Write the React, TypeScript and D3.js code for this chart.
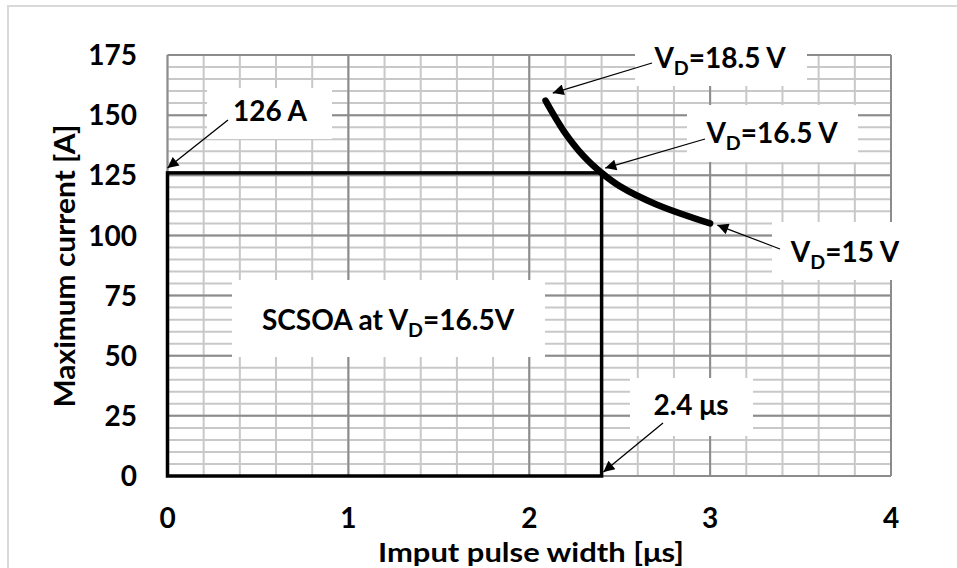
import React from "react";
import * as d3 from "d3";

// ---- data ----
const xTicks = [0, 1, 2, 3, 4];
const yTicks = [0, 25, 50, 75, 100, 125, 150, 175];
const curveX = [2.09, 2.19, 2.3, 2.4, 2.5, 2.7, 3.0];
const curveY = [156, 143.5, 133, 126, 120.5, 113, 105];
const soaWidth = 2.4;
const soaCurrent = 126;

// annotation text + arrow tip (data coords)
const annTexts = ["126 A", "V_D=18.5 V", "V_D=16.5 V", "V_D=15 V", "2.4 μs", "SCSOA at V_D=16.5V"];
const annTipX = [0, 2.13, 2.42, 3.04, 2.41, NaN];
const annTipY = [128, 159.2, 128, 104.3, 1.7, NaN];

// ---- layout (pixels) ----
const W = 957, H = 568;
const X0 = 167.5, X1 = 891, Y0 = 476, Y1 = 55;
// label layout: text centre x, baseline y, box [x0,x1,y0,y1], arrow tail
const annLayout = [
  { cx: 270, by: 121, box: [207, 332, 88, 139], tail: [228, 120] },
  { cx: 720, by: 68, box: [635, 807, 36, 86], tail: [652, 63] },
  { cx: 772, by: 143, box: [687, 858, 105, 162], tail: [705, 139] },
  { cx: 845, by: 262, box: [772, 918, 222, 280], tail: [780, 249] },
  { cx: 691, by: 415, box: [630, 753, 378, 436], tail: [663, 423] },
  { cx: 388, by: 330, box: [232, 545, 280, 357], tail: null },
];

const FONT = "Lato, 'Open Sans', sans-serif";
const FS = 28;

function Label({ text, x, y, size }: { text: string; x: number; y: number; size: number }) {
  const parts = text.split("_D");
  if (parts.length === 1) {
    return (
      <text x={x} y={y} textAnchor="middle" fontSize={size} fontWeight="bold" fontFamily={FONT} fill="#000">
        {text}
      </text>
    );
  }
  return (
    <text x={x} y={y} textAnchor="middle" fontSize={size} fontWeight="bold" fontFamily={FONT} fill="#000">
      {parts[0]}
      <tspan fontSize={size * 0.7} dy={7}>D</tspan>
      <tspan dy={-7}>{parts[1]}</tspan>
    </text>
  );
}

export default function App() {
  const x = d3.scaleLinear().domain([0, 4]).range([X0, X1]);
  const y = d3.scaleLinear().domain([0, 175]).range([Y0, Y1]);

  const minorX = d3.range(0, 4.0001, 0.2);
  const minorY = d3.range(0, 175.0001, 5);

  const pts: [number, number][] = curveX.map((v, i) => [v, curveY[i]]);
  const line = d3
    .line<[number, number]>()
    .x((d) => x(d[0]))
    .y((d) => y(d[1]))
    .curve(d3.curveCatmullRom.alpha(0.5));

  const minorColor = "#c8c8c8";
  const majorColor = "#8c8c8c";

  return (
    <svg width={W} height={H} style={{ position: "absolute", left: 0, top: 0, background: "#fff" }}>
      <defs>
        <marker id="ah" viewBox="0 0 10 10" refX="10" refY="5" markerWidth="14" markerHeight="11" markerUnits="userSpaceOnUse" orient="auto">
          <path d="M0,0 L10,5 L0,10 z" fill="#000" />
        </marker>
      </defs>
      <rect x={8} y={6} width={W + 10} height={H + 10} fill="#fff" stroke="#d9d9d9" strokeWidth={2} />

      {/* minor grid */}
      {minorX.map((v, i) => (
        <line key={"mx" + i} x1={x(v)} x2={x(v)} y1={y(0)} y2={y(175)} stroke={minorColor} strokeWidth={2} />
      ))}
      {minorY.map((v, i) => (
        <line key={"my" + i} x1={x(0)} x2={x(4)} y1={y(v)} y2={y(v)} stroke={minorColor} strokeWidth={2} />
      ))}
      {/* major grid */}
      {xTicks.map((v) => (
        <line key={"Mx" + v} x1={x(v)} x2={x(v)} y1={y(0)} y2={y(175)} stroke={majorColor} strokeWidth={2} />
      ))}
      {yTicks.map((v) => (
        <line key={"My" + v} x1={x(0)} x2={x(4)} y1={y(v)} y2={y(v)} stroke={majorColor} strokeWidth={2} />
      ))}

      {/* annotation boxes */}
      {annLayout.map((a, i) => (
        <rect key={"b" + i} x={a.box[0]} y={a.box[2]} width={a.box[1] - a.box[0]} height={a.box[3] - a.box[2]} fill="#fff" />
      ))}

      {/* SOA rectangle */}
      <rect
        x={x(0)}
        y={y(soaCurrent)}
        width={x(soaWidth) - x(0)}
        height={y(0) - y(soaCurrent)}
        fill="none"
        stroke="#000"
        strokeWidth={3.5}
      />

      {/* curve */}
      <path d={line(pts) || ""} fill="none" stroke="#000" strokeWidth={6.5} strokeLinecap="round" strokeLinejoin="round" />

      {/* arrows */}
      {annLayout.map((a, i) =>
        a.tail ? (
          <line
            key={"a" + i}
            x1={a.tail[0]}
            y1={a.tail[1]}
            x2={x(annTipX[i])}
            y2={y(annTipY[i])}
            stroke="#000"
            strokeWidth={1.3}
            markerEnd="url(#ah)"
          />
        ) : null
      )}

      {/* annotation texts */}
      {annLayout.map((a, i) => (
        <Label key={"t" + i} text={annTexts[i]} x={a.cx} y={a.by} size={FS} />
      ))}

      {/* axes labels */}
      {yTicks.map((v) => (
        <text key={"yl" + v} x={137} y={y(v)} dy="0.36em" textAnchor="end" fontSize={FS} fontWeight="bold" fontFamily={FONT}>
          {v}
        </text>
      ))}
      {xTicks.map((v) => (
        <text key={"xl" + v} x={x(v)} y={518} dy="0.36em" textAnchor="middle" fontSize={FS} fontWeight="bold" fontFamily={FONT}>
          {v}
        </text>
      ))}
      <text x={531} y={562} textAnchor="middle" fontSize={27} fontWeight="bold" fontFamily={FONT} textLength={306} lengthAdjust="spacingAndGlyphs">
        Imput pulse width [μs]
      </text>
      <text
        transform={`translate(75,266) rotate(-90)`}
        textAnchor="middle"
        fontSize={FS}
        fontWeight="bold"
        fontFamily={FONT}
        textLength={283}
        lengthAdjust="spacingAndGlyphs"
      >
        Maximum current [A]
      </text>
    </svg>
  );
}
